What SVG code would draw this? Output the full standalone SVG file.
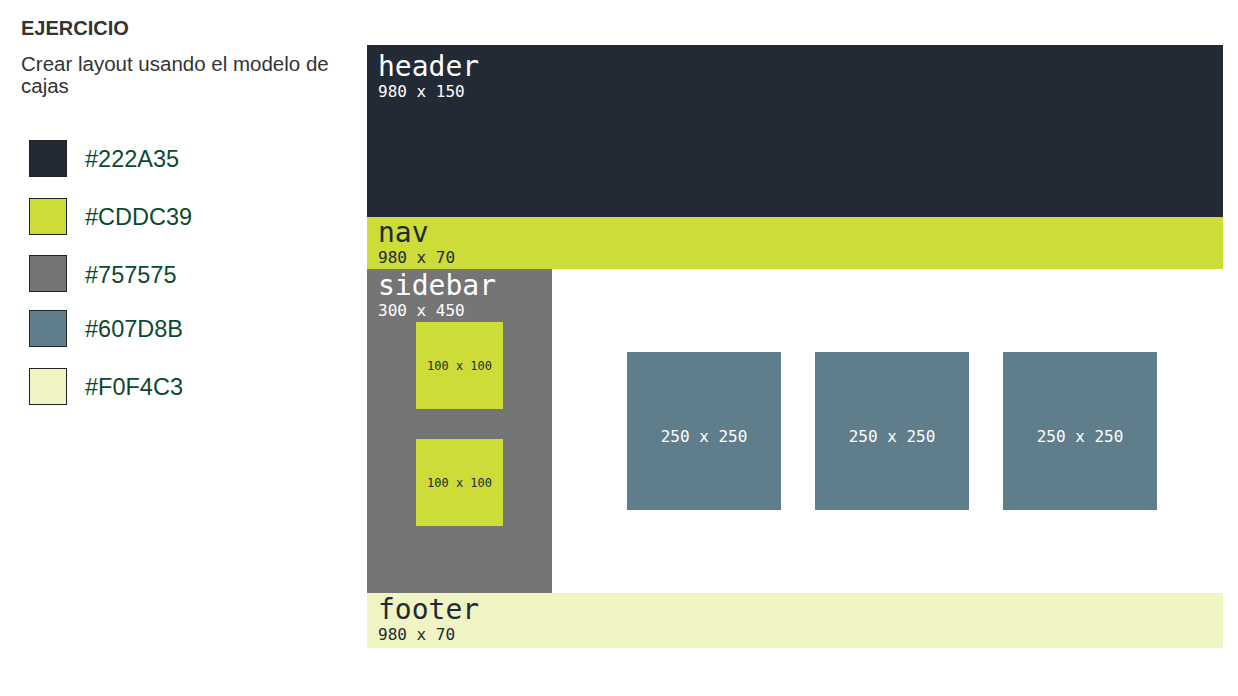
<svg xmlns="http://www.w3.org/2000/svg" width="1238" height="696" viewBox="0 0 1238 696">
<style>
.mono{font-family:"DejaVu Sans Mono","Liberation Mono",monospace}
.big{font-size:28px}
.small{font-size:16px}
.tiny{font-size:12px}
.light{fill:#ffffff}
.dark{fill:#222A35}
.sw{stroke:#222222;stroke-width:1}
.leg{font-family:"Liberation Sans",Arial,sans-serif;font-size:23.5px;fill:#0b4a2e}
</style>
<rect width="1238" height="696" fill="#ffffff"/>
<g id="title">
<text x="21" y="35" font-family="Liberation Sans,Arial,sans-serif" font-weight="bold" font-size="20" fill="#333333">EJERCICIO</text>
<text font-family="Liberation Sans,Arial,sans-serif" font-size="20.500" fill="#333333"><tspan x="21" y="71">Crear layout usando el modelo de</tspan><tspan x="21" y="93">cajas</tspan></text>
</g>
<g id="legend">
<rect class="sw" x="29.500" y="140.500" width="37" height="36" fill="#222A35"/>
<text class="leg" x="85" y="167">#222A35</text>
<rect class="sw" x="29.500" y="198.500" width="37" height="36" fill="#CDDC39"/>
<text class="leg" x="85" y="225">#CDDC39</text>
<rect class="sw" x="29.500" y="255.500" width="37" height="36" fill="#757575"/>
<text class="leg" x="85" y="283">#757575</text>
<rect class="sw" x="29.500" y="310.500" width="37" height="36" fill="#607D8B"/>
<text class="leg" x="85" y="337">#607D8B</text>
<rect class="sw" x="29.500" y="368.500" width="37" height="36" fill="#F0F4C3"/>
<text class="leg" x="85" y="395">#F0F4C3</text>
</g>
<g id="header">
<rect x="367" y="45" width="856" height="172" fill="#222A35"/>
<text class="mono big light" x="378" y="76">header</text>
<text class="mono small light" x="378" y="97">980 x 150</text>
</g>
<g id="nav">
<rect x="367" y="217" width="856" height="52" fill="#CDDC39"/>
<text class="mono big dark" x="378" y="242">nav</text>
<text class="mono small dark" x="378" y="263">980 x 70</text>
</g>
<g id="sidebar">
<rect x="367" y="269" width="185" height="324" fill="#757575"/>
<text class="mono big light" x="378" y="295">sidebar</text>
<text class="mono small light" x="378" y="316">300 x 450</text>
</g>
<g id="side-box-1">
<rect x="416" y="322" width="87" height="87" fill="#CDDC39"/>
<text class="mono tiny dark" x="459.500" y="369.500" text-anchor="middle">100 x 100</text>
</g>
<g id="side-box-2">
<rect x="416" y="439" width="87" height="87" fill="#CDDC39"/>
<text class="mono tiny dark" x="459.500" y="486.500" text-anchor="middle">100 x 100</text>
</g>
<g id="box-1">
<rect x="627" y="352" width="154" height="158" fill="#607D8B"/>
<text class="mono small light" x="704" y="441.500" text-anchor="middle">250 x 250</text>
</g>
<g id="box-2">
<rect x="815" y="352" width="154" height="158" fill="#607D8B"/>
<text class="mono small light" x="892" y="441.500" text-anchor="middle">250 x 250</text>
</g>
<g id="box-3">
<rect x="1003" y="352" width="154" height="158" fill="#607D8B"/>
<text class="mono small light" x="1080" y="441.500" text-anchor="middle">250 x 250</text>
</g>
<g id="footer">
<rect x="367" y="593" width="856" height="55" fill="#F0F4C3"/>
<text class="mono big dark" x="378" y="619">footer</text>
<text class="mono small dark" x="378" y="640">980 x 70</text>
</g>
<g id="connectors"/>
</svg>
